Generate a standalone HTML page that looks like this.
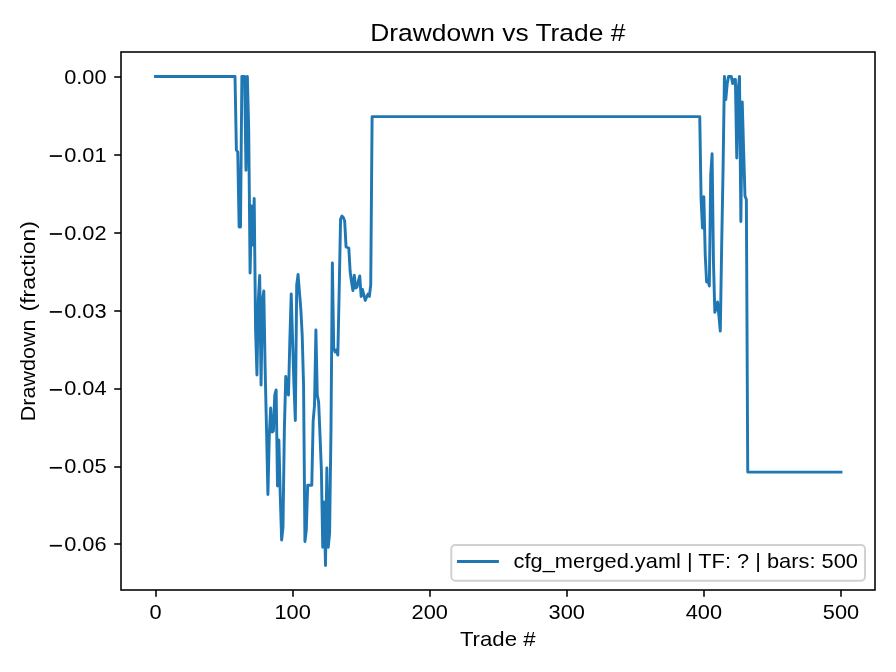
<!DOCTYPE html>
<html><head><meta charset="utf-8"><title>Drawdown vs Trade #</title>
<style>
html,body{margin:0;padding:0;background:#fff;}
body{width:896px;height:672px;overflow:hidden;}
svg{display:block;will-change:transform;}
text{font-family:"Liberation Sans",sans-serif;fill:#000;}
</style></head><body>
<svg width="896" height="672" viewBox="0 0 896 672">
<rect x="0" y="0" width="896" height="672" fill="#ffffff"/>
<path d="M155.50,76.50 L235.01,76.50 L236.38,150.00 L237.75,152.00 L239.12,227.00 L240.50,227.00 L241.87,76.50 L244.61,76.50 L245.98,170.30 L247.35,76.50 L248.72,130.00 L250.09,273.00 L251.46,206.00 L252.83,245.00 L254.20,198.50 L255.58,330.00 L256.95,375.00 L258.32,300.00 L259.69,275.50 L261.06,385.00 L262.43,300.00 L263.80,291.00 L265.17,370.00 L266.54,430.00 L267.91,494.50 L269.28,436.00 L270.66,408.00 L272.03,432.00 L273.40,431.00 L274.77,395.00 L276.14,390.00 L277.51,486.00 L278.88,440.00 L280.25,495.00 L281.62,540.00 L282.99,527.00 L284.36,430.00 L285.74,376.50 L287.11,390.00 L288.48,395.00 L289.85,340.00 L291.22,294.00 L292.59,340.00 L293.96,385.00 L295.33,420.50 L296.70,285.00 L298.07,274.50 L299.44,292.00 L300.82,309.00 L302.19,335.00 L303.56,385.00 L304.93,541.50 L306.30,530.00 L307.67,485.30 L311.78,485.30 L313.15,421.00 L314.52,405.00 L315.90,330.00 L317.27,395.00 L318.64,402.00 L320.01,435.00 L321.38,470.00 L322.75,547.30 L324.12,502.00 L325.49,565.50 L326.86,468.00 L328.23,547.30 L329.60,533.00 L330.98,430.00 L332.35,263.00 L333.72,348.00 L335.09,352.00 L336.46,350.00 L337.83,355.00 L339.20,290.00 L340.57,219.00 L341.94,216.00 L343.31,217.50 L344.68,221.00 L346.06,247.00 L347.43,247.50 L348.80,248.00 L350.17,272.00 L351.54,282.00 L352.91,290.50 L354.28,275.20 L355.65,288.00 L357.02,287.00 L358.39,281.00 L359.76,276.00 L361.13,296.50 L362.51,289.50 L363.88,295.00 L365.25,300.40 L366.62,297.00 L367.99,294.00 L369.36,296.40 L370.73,285.00 L372.10,116.65 L699.75,116.65 L701.12,200.00 L702.49,228.00 L703.86,196.70 L705.23,255.00 L706.60,282.00 L707.97,280.00 L709.34,286.00 L710.71,175.00 L712.09,153.80 L713.46,262.00 L714.83,312.40 L716.20,308.00 L717.57,302.00 L718.94,316.00 L720.31,331.00 L721.68,245.00 L723.05,170.00 L724.42,76.50 L725.79,99.50 L727.17,84.00 L728.54,76.50 L731.28,76.50 L732.65,83.50 L734.02,79.50 L735.39,79.50 L736.76,158.00 L738.13,90.00 L739.50,76.50 L740.87,221.60 L742.25,102.00 L743.62,150.00 L744.99,196.00 L746.36,199.50 L747.73,472.10 L840.95,472.10" fill="none" stroke="#1f77b4" stroke-width="2.92" stroke-linejoin="round" stroke-linecap="square"/>
<rect x="121" y="52" width="754.00" height="538.00" fill="none" stroke="#000" stroke-width="1.56"/>
<line x1="156" y1="590" x2="156" y2="596.80" stroke="#000" stroke-width="1.56"/>
<text transform="translate(155.50,619.00) scale(1.1,1)" font-size="19.8" text-anchor="middle">0</text>
<line x1="293" y1="590" x2="293" y2="596.80" stroke="#000" stroke-width="1.56"/>
<text transform="translate(292.59,619.00) scale(1.1,1)" font-size="19.8" text-anchor="middle">100</text>
<line x1="430" y1="590" x2="430" y2="596.80" stroke="#000" stroke-width="1.56"/>
<text transform="translate(429.68,619.00) scale(1.1,1)" font-size="19.8" text-anchor="middle">200</text>
<line x1="567" y1="590" x2="567" y2="596.80" stroke="#000" stroke-width="1.56"/>
<text transform="translate(566.77,619.00) scale(1.1,1)" font-size="19.8" text-anchor="middle">300</text>
<line x1="704" y1="590" x2="704" y2="596.80" stroke="#000" stroke-width="1.56"/>
<text transform="translate(703.86,619.00) scale(1.1,1)" font-size="19.8" text-anchor="middle">400</text>
<line x1="841" y1="590" x2="841" y2="596.80" stroke="#000" stroke-width="1.56"/>
<text transform="translate(840.95,619.00) scale(1.1,1)" font-size="19.8" text-anchor="middle">500</text>
<line x1="114.20" y1="77" x2="121" y2="77" stroke="#000" stroke-width="1.56"/>
<text transform="translate(106.50,83.70) scale(1.1,1)" font-size="19.8" text-anchor="end">0.00</text>
<line x1="114.20" y1="155" x2="121" y2="155" stroke="#000" stroke-width="1.56"/>
<text transform="translate(106.50,161.64) scale(1.1,1)" font-size="19.8" text-anchor="end">0.01</text>
<rect x="49.8" y="155.19" width="12.1" height="1.7" fill="#000"/>
<line x1="114.20" y1="233" x2="121" y2="233" stroke="#000" stroke-width="1.56"/>
<text transform="translate(106.50,239.58) scale(1.1,1)" font-size="19.8" text-anchor="end">0.02</text>
<rect x="49.8" y="233.13" width="12.1" height="1.7" fill="#000"/>
<line x1="114.20" y1="311" x2="121" y2="311" stroke="#000" stroke-width="1.56"/>
<text transform="translate(106.50,317.52) scale(1.1,1)" font-size="19.8" text-anchor="end">0.03</text>
<rect x="49.8" y="311.07" width="12.1" height="1.7" fill="#000"/>
<line x1="114.20" y1="389" x2="121" y2="389" stroke="#000" stroke-width="1.56"/>
<text transform="translate(106.50,395.46) scale(1.1,1)" font-size="19.8" text-anchor="end">0.04</text>
<rect x="49.8" y="389.01" width="12.1" height="1.7" fill="#000"/>
<line x1="114.20" y1="467" x2="121" y2="467" stroke="#000" stroke-width="1.56"/>
<text transform="translate(106.50,473.40) scale(1.1,1)" font-size="19.8" text-anchor="end">0.05</text>
<rect x="49.8" y="466.95" width="12.1" height="1.7" fill="#000"/>
<line x1="114.20" y1="544" x2="121" y2="544" stroke="#000" stroke-width="1.56"/>
<text transform="translate(106.50,551.34) scale(1.1,1)" font-size="19.8" text-anchor="end">0.06</text>
<rect x="49.8" y="544.89" width="12.1" height="1.7" fill="#000"/>
<text transform="translate(497.80,41.10) scale(1.111,1)" font-size="23.75" text-anchor="middle">Drawdown vs Trade #</text>
<text transform="translate(497.70,646.30) scale(1.12,1)" font-size="19.8" text-anchor="middle">Trade #</text>
<text transform="translate(35.2,421.2) rotate(-90) scale(1.0875,1)" font-size="19.8" text-anchor="start">Drawdown</text>
<text transform="translate(35.2,221.0) rotate(-90) scale(1.159,1)" font-size="19.8" text-anchor="end">(fraction)</text>
<rect x="451.3" y="545" width="413.7" height="35.75" rx="3.9" ry="3.9" fill="#ffffff" fill-opacity="0.8" stroke="#cccccc" stroke-opacity="0.9" stroke-width="1.94"/>
<line x1="458.45" y1="561.5" x2="497.45" y2="561.5" stroke="#1f77b4" stroke-width="2.92" stroke-linecap="square"/>
<text transform="translate(513.60,568.10) scale(1.102,1)" font-size="19.8" text-anchor="start">cfg_merged.yaml | TF: ? | bars: 500</text>
</svg></body></html>
